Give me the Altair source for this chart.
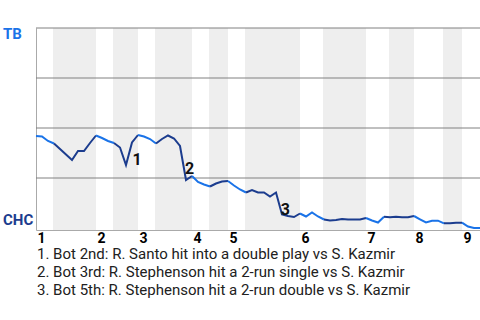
import altair as alt
import pandas as pd

# Win probability for TB (1 = TB wins, 0 = CHC wins), one value per play
win_prob = [0.46, 0.458, 0.435, 0.4225, 0.395, 0.3675, 0.34, 0.385, 0.385, 0.425,
            0.4625, 0.45, 0.435, 0.425, 0.4025, 0.315, 0.4275, 0.465, 0.4575, 0.445,
            0.4225, 0.445, 0.4625, 0.4475, 0.41, 0.24, 0.26, 0.23, 0.2175, 0.2075,
            0.2225, 0.2325, 0.235, 0.2125, 0.1925, 0.1775, 0.19, 0.1775, 0.1775, 0.1575,
            0.1775, 0.0675, 0.06, 0.055, 0.0725, 0.0575, 0.0775, 0.0575, 0.0425, 0.0375,
            0.04, 0.045, 0.0425, 0.0425, 0.0425, 0.05, 0.0375, 0.0275, 0.0565, 0.0535,
            0.0565, 0.0535, 0.0535, 0.06, 0.0435, 0.0275, 0.0365, 0.0365, 0.0235, 0.0235,
            0.0265, 0.0265, 0.0075, 0.0, 0.0]

# last play index of each half-inning
top_last = [3, 13, 20, 29, 35, 48, 58, 68, 74]
bottom_last = [10, 17, 26, 32, 44, 55, 63, 71]

# shaded bottom-half bands (play units)
band_start = [2.83, 12.83, 19.83, 28.83, 34.83, 47.83, 58.83, 67.83]
band_end = [10, 17, 26, 32, 44, 55, 63, 71]

inning_start = [0, 10, 17, 26, 32, 44, 55, 63, 71]
inning_label = ["1", "2", "3", "4", "5", "6", "7", "8", "9"]

grid_values = [0.25, 0.5, 0.75, 1.0]

teams = ["TB", "CHC"]
team_colors = ["#1a73e8", "#1b3c8e"]

ann_label = ["1", "2", "3"]
ann_x = [16.1, 24.83, 40.78]
ann_y = [0.315, 0.27, 0.065]

footnotes = [
    "1. Bot 2nd: R. Santo hit into a double play vs S. Kazmir",
    "2. Bot 3rd: R. Stephenson hit a 2-run single vs S. Kazmir",
    "3. Bot 5th: R. Stephenson hit a 2-run double vs S. Kazmir",
]

FONT = "Roboto"
N = len(win_prob) - 1

# build line segments by half-inning
ends = sorted([(i, "TB") for i in top_last] + [(i, "CHC") for i in bottom_last])
rows = []
prev = 0
for seg, (last, team) in enumerate(ends):
    for i in range(prev, last + 1):
        rows.append({"play": i, "p": win_prob[i], "seg": seg, "team": team})
    prev = last
line_df = pd.DataFrame(rows)

band_df = pd.DataFrame({"x0": band_start, "x1": band_end})
grid_df = pd.DataFrame({"g": grid_values})
ann_df = pd.DataFrame({"x": ann_x, "y": ann_y, "t": ann_label})

xscale = alt.Scale(domain=[0, N], nice=False, zero=False)
yscale = alt.Scale(domain=[-0.01, 1.0], nice=False, zero=False)

label_expr = "[" + ",".join('"%s"' % s for s in inning_label) + "][indexof([" + \
    ",".join(str(v) for v in inning_start) + "], datum.value)]"

bands = alt.Chart(band_df).mark_rect(color="#eeeeee").encode(
    x=alt.X("x0:Q", scale=xscale,
            axis=alt.Axis(values=inning_start, labelExpr=label_expr, labelAlign="left",
                          labelFontWeight="bold", labelFontSize=14, labelColor="#000000",
                          labelFont=FONT, ticks=False, labelPadding=1, labelOffset=1,
                          domainColor="#aaaaaa", grid=False, title=None,
                          labelFlush=False, labelOverlap=False, labelBaseline="top")),
    x2="x1:Q",
    y=alt.Y(datum=1.0, scale=yscale,
            axis=alt.Axis(labels=False, ticks=False, grid=False, domainColor="#aaaaaa",
                          title=None)),
    y2=alt.Y2(datum=-0.01),
)

grid = alt.Chart(grid_df).mark_rule(color="#808080", strokeWidth=1).encode(
    y=alt.Y("g:Q", scale=yscale),
    x=alt.X(datum=0, scale=xscale),
    x2=alt.X2(datum=N),
)

line = alt.Chart(line_df).mark_line(strokeWidth=2).encode(
    x=alt.X("play:Q", scale=xscale),
    y=alt.Y("p:Q", scale=yscale),
    color=alt.Color("team:N", scale=alt.Scale(domain=teams, range=team_colors), legend=None),
    detail="seg:N",
    order="play:Q",
)

ann = alt.Chart(ann_df).mark_text(font=FONT, fontSize=16, fontWeight="bold",
                                  align="left", baseline="alphabetic",
                                  color="#111111").encode(
    x=alt.X("x:Q", scale=xscale),
    y=alt.Y("y:Q", scale=yscale),
    text="t:N",
)

tb_label = alt.Chart(pd.DataFrame({"t": [teams[0]]})).mark_text(
    font=FONT, fontSize=15, fontWeight="bold", align="left", baseline="alphabetic",
    color=team_colors[0], dy=11).encode(
    x=alt.value(-33), y=alt.Y(datum=1.0, scale=yscale), text="t:N")

chc_label = alt.Chart(pd.DataFrame({"t": [teams[1]]})).mark_text(
    font=FONT, fontSize=15, fontWeight="bold", align="left", baseline="alphabetic",
    color=team_colors[1], dy=-3).encode(
    x=alt.value(-33), y=alt.Y(datum=0.0, scale=yscale), text="t:N")

notes = []
for i, s in enumerate(footnotes):
    notes.append(
        alt.Chart(pd.DataFrame({"t": [s]})).mark_text(
            font=FONT, fontSize=15, align="left", baseline="alphabetic",
            color="#212121").encode(
            x=alt.value(1), y=alt.value(231 + 18 * i), text="t:N")
    )

chart = alt.layer(bands, grid, line, ann, tb_label, chc_label, *notes).properties(
    width=444, height=202,
    autosize=alt.AutoSizeParams(type="none"),
    padding={"left": 36, "top": 28, "right": 0, "bottom": 90},
    background="white",
).configure_view(stroke=None)

chart.save("out.html", embed_options={"renderer": "svg", "actions": False})
